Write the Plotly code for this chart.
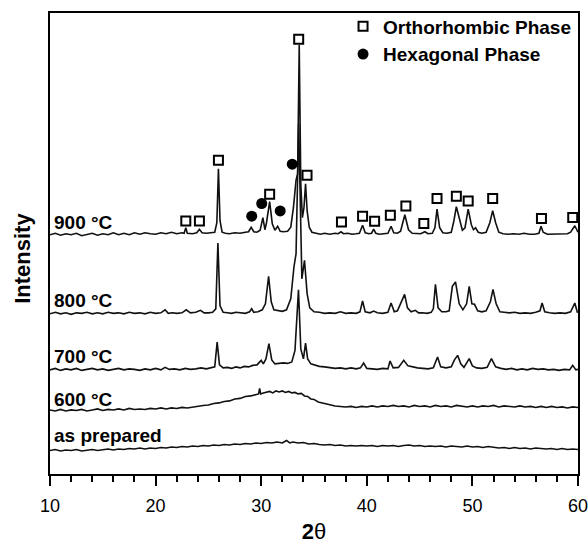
import plotly.graph_objects as go

# ---------------- data (2theta, intensity in a.u. incl. vertical offset) ----------------
tt_900 = [10.0, 10.5, 11.0, 11.5, 12.0, 12.5, 13.0, 13.5, 14.0, 14.5, 15.0, 15.5, 16.0, 16.5, 17.0, 17.5, 18.0, 18.5, 19.0, 19.5,
          20.0, 20.5, 21.0, 21.5, 22.0, 22.5, 22.7, 22.86, 23.0, 23.5, 23.9, 24.15, 24.4, 24.8, 25.2, 25.6, 25.8, 25.95, 26.1, 26.3,
          26.6, 27.0, 27.5, 28.0, 28.5, 28.8, 29.05, 29.3, 29.6, 29.9, 30.16, 30.35, 30.5, 30.8, 31.05, 31.3, 31.56, 31.8, 32.1, 32.5,
          32.8, 33.05, 33.3, 33.45, 33.6, 33.75, 33.9, 34.05, 34.2, 34.35, 34.55, 34.8, 35.2, 35.6, 36.0, 36.5, 37.0, 37.3, 37.55, 37.8,
          38.2, 38.6, 39.0, 39.3, 39.6, 39.85, 40.2, 40.45, 40.65, 40.85, 41.2, 41.6, 42.0, 42.3, 42.55, 42.9, 43.2, 43.6, 43.95, 44.3,
          44.7, 45.1, 45.5, 45.8, 46.2, 46.45, 46.65, 46.9, 47.2, 47.6, 48.0, 48.25, 48.48, 48.75, 49.05, 49.3, 49.6, 49.9, 50.1, 50.3,
          50.55, 50.9, 51.3, 51.65, 51.92, 52.2, 52.5, 52.9, 53.4, 53.9, 54.4, 54.9, 55.4, 55.9, 56.3, 56.5, 56.7, 57.1, 57.6, 58.1,
          58.6, 59.0, 59.3, 59.7, 60.0]
int_900 = [239, 240.5, 238.5, 240, 239, 240.5, 238, 239.5, 240.5, 238.5, 240, 239, 241, 239, 240.5, 239, 241, 239.5, 241, 240,
           239.5, 241, 240, 241.5, 240, 241, 240.5, 246, 240.5, 240, 241, 244.5, 241, 240.5, 241, 241.5, 251, 305, 253, 241.5,
           240.5, 240, 241, 240.5, 241.5, 242, 246.5, 242, 241.5, 243.5, 256, 244, 251, 272, 250, 243.5, 247.5, 242.5, 242, 242.5,
           246.5, 266, 293.5, 300, 428.5, 290, 256, 266, 290, 263, 246.5, 241.5, 240.5, 239.5, 240.5, 239.5, 240.5, 240, 242, 240,
           240.5, 239.5, 240, 240.5, 248.5, 241, 240, 240.5, 244.5, 240.5, 239.5, 240, 240.5, 247.5, 241, 240.5, 242.5, 259, 244, 240.5,
           240, 240, 242, 240, 240.5, 246, 264.5, 246, 241, 240.5, 241.5, 253, 267, 256, 243.5, 246, 264.5, 249, 244, 246,
           241.5, 240.5, 241.5, 251, 263, 251, 241.5, 240, 239.5, 240, 239.5, 240.5, 239.5, 239.5, 240.5, 247.5, 241.5, 239.5, 239.5, 240,
           239.5, 240, 241.5, 248, 241.5]

tt_800 = [10.0, 10.5, 11.0, 11.5, 12.0, 12.5, 13.0, 13.5, 14.0, 14.5, 15.0, 15.5, 16.0, 16.5, 17.0, 17.5, 18.0, 18.5, 19.0, 19.5,
          20.0, 20.5, 20.9, 21.2, 21.6, 22.0, 22.5, 22.9, 23.3, 23.8, 24.25, 24.6, 25.0, 25.4, 25.7, 25.9, 26.1, 26.4, 26.8, 27.2,
          27.6, 28.0, 28.5, 28.9, 29.1, 29.3, 29.7, 30.1, 30.4, 30.7, 30.95, 31.2, 31.6, 32.0, 32.4, 32.8, 33.1, 33.3, 33.55, 33.7,
          33.85, 34.1, 34.35, 34.6, 35.0, 35.5, 36.0, 36.5, 37.0, 37.5, 38.0, 38.5, 39.0, 39.35, 39.6, 39.85, 40.3, 40.65, 41.0, 41.5,
          42.0, 42.3, 42.6, 42.9, 43.25, 43.58, 43.85, 44.2, 44.6, 44.9, 45.3, 45.7, 46.1, 46.3, 46.5, 46.75, 47.1, 47.5, 47.8, 48.1,
          48.4, 48.75, 49.1, 49.45, 49.7, 49.95, 50.2, 50.5, 50.9, 51.3, 51.7, 51.95, 52.25, 52.6, 53.0, 53.5, 54.0, 54.5, 55.0, 55.5,
          56.0, 56.4, 56.6, 56.85, 57.3, 57.8, 58.3, 58.8, 59.3, 59.7, 59.95]
int_800 = [160, 161.5, 160, 161, 159.5, 161, 160.5, 161.5, 160, 161, 160, 161.5, 160.5, 161, 160, 161.5, 160.5, 161, 160, 161.5,
           160.5, 161, 164, 160.5, 161, 160.5, 161, 164, 161, 161.5, 163.5, 161, 161, 161.5, 165, 230.8, 168, 161.5, 161, 160.5,
           161.5, 161, 160.5, 162, 165, 161.5, 162, 164, 170, 197.5, 172, 164, 163, 162.5, 164, 175, 206.8, 220, 350, 260,
           195, 213.5, 180, 166, 162, 161.5, 160.5, 161, 160.5, 162, 160.5, 161, 160.5, 162, 172.8, 162, 161, 162.8, 161, 160.5,
           161.5, 170.8, 162, 163, 172.5, 179.5, 166, 162, 163.5, 161, 161, 160.5, 161.5, 165, 189.5, 166, 162, 162, 163, 187.5,
           191.8, 170, 164, 170, 187.5, 170, 169.5, 163, 162, 163, 172, 184.5, 170, 162, 161.5, 161, 161.5, 160.5, 161, 160.5,
           161.5, 163, 170.8, 162, 161, 160.5, 161, 160.5, 162, 170.8, 161]

tt_700 = [10.0, 10.5, 11.0, 11.5, 12.0, 12.5, 13.0, 13.5, 14.0, 14.5, 15.0, 15.5, 16.0, 16.5, 17.0, 17.5, 18.0, 18.5, 19.0, 19.5,
          20.0, 20.5, 20.9, 21.3, 21.8, 22.3, 22.8, 23.3, 23.8, 24.3, 24.8, 25.3, 25.6, 25.83, 26.05, 26.4, 26.8, 27.2, 27.6, 28.0,
          28.4, 28.8, 29.2, 29.6, 30.0, 30.2, 30.45, 30.73, 31.0, 31.3, 31.7, 32.1, 32.5, 32.9, 33.2, 33.53, 33.75, 34.0, 34.2, 34.4,
          34.7, 35.0, 35.5, 36.0, 36.5, 37.0, 37.5, 38.0, 38.5, 39.0, 39.4, 39.7, 40.0, 40.5, 41.0, 41.5, 42.0, 42.2, 42.5, 43.0,
          43.5, 43.9, 44.3, 44.8, 45.3, 45.8, 46.3, 46.7, 47.0, 47.5, 48.0, 48.3, 48.6, 48.9, 49.2, 49.7, 50.0, 50.4, 50.9, 51.4,
          51.8, 52.2, 52.7, 53.2, 53.7, 54.2, 54.7, 55.2, 55.7, 56.2, 56.7, 57.2, 57.7, 58.2, 58.7, 59.2, 59.5, 59.8, 60.0]
int_700 = [104, 105.5, 103.5, 105, 104, 105.5, 103.5, 104.5, 105.5, 104, 105, 103.5, 104.5, 105.5, 104, 105, 104.5, 103.5, 105, 104,
           105.5, 104, 106.5, 104.5, 105, 104, 105.5, 104.5, 105, 106, 105, 106, 107, 131.8, 109, 106, 106.5, 105.5, 107, 106,
           107.5, 107, 108.5, 109, 113.5, 110, 115, 130.2, 114, 110, 110.5, 111, 110.5, 112, 123.5, 184, 125, 115, 130.8, 115,
           110, 109, 107.5, 107, 106.5, 105.5, 106, 105, 106, 105, 106, 110.8, 105.5, 105, 104.5, 105.5, 105, 112.8, 106, 106.5,
           113.5, 108, 107, 106, 105.5, 105, 106, 116.8, 107, 106, 107, 114, 118.5, 110, 106.5, 115.2, 108, 106, 105.5, 106.5,
           115.2, 107, 105.5, 104.5, 105.5, 104, 105, 104, 105.5, 104.5, 105, 104, 104.5, 103.5, 104.5, 104, 108.5, 104, 104.5]

tt_600 = [10.0, 10.5, 11.0, 11.5, 12.0, 12.5, 13.0, 13.5, 14.0, 14.5, 15.0, 15.5, 16.0, 16.5, 17.0, 17.5, 18.0, 18.5, 19.0, 19.5,
          20.0, 20.5, 21.0, 21.5, 22.0, 22.5, 23.0, 23.5, 24.0, 24.5, 25.0, 25.5, 26.0, 26.5, 27.0, 27.5, 28.0, 28.5, 29.0, 29.5,
          29.75, 29.85, 29.95, 30.2, 30.5, 30.8, 31.1, 31.4, 31.7, 32.0, 32.3, 32.6, 32.9, 33.2, 33.5, 33.8, 34.1, 34.4, 34.7, 35.0,
          35.4, 35.8, 36.2, 36.6, 37.0, 37.5, 38.0, 38.5, 39.0, 39.5, 40.0, 40.5, 41.0, 41.5, 42.0, 42.5, 43.0, 43.5, 44.0, 44.5,
          45.0, 45.5, 46.0, 46.5, 47.0, 47.5, 48.0, 48.5, 49.0, 49.5, 50.0, 50.5, 51.0, 51.5, 52.0, 52.5, 53.0, 53.5, 54.0, 54.5,
          55.0, 55.5, 56.0, 56.5, 57.0, 57.5, 58.0, 58.5, 59.0, 59.5, 60.0]
int_600 = [64, 63, 64.5, 63, 64, 63.5, 64.5, 63, 64, 65, 63.5, 64.5, 64, 65, 64, 65.5, 64.5, 65, 64.5, 65.5,
           65, 66, 65, 66, 65.5, 66.5, 66, 67, 67.5, 68.5, 69, 70.5, 71, 72.5, 73, 75, 75.5, 77.5, 78, 79.5,
           80, 85.5, 80, 81, 81.5, 82.5, 81, 83, 82, 83, 81.5, 82.5, 81, 81.5, 80, 80.5, 78, 77.5, 75, 74.5,
           72, 71, 69.5, 69, 68, 67.5, 67, 67.5, 66.5, 67.5, 67, 68, 67, 68, 67.5, 68.5, 67.5, 68, 67, 68.5,
           67.5, 68, 67, 68.5, 67.5, 68, 67, 68.5, 68, 67, 68, 67, 68, 67.5, 68.5, 67, 68, 67.5, 67, 68,
           67, 67.5, 66.5, 67.5, 66.5, 67.5, 66.5, 67, 66, 67, 66.5]

tt_asprep = [10.0, 10.5, 11.0, 11.5, 12.0, 12.5, 13.0, 13.5, 14.0, 14.5, 15.0, 15.5, 16.0, 16.5, 17.0, 17.5, 18.0, 18.5, 19.0, 19.5,
             20.0, 20.5, 21.0, 21.5, 22.0, 22.5, 23.0, 23.5, 24.0, 24.5, 25.0, 25.5, 26.0, 26.5, 27.0, 27.5, 28.0, 28.5, 29.0, 29.5,
             30.0, 30.5, 31.0, 31.5, 32.0, 32.4, 32.7, 33.0, 33.5, 34.0, 34.5, 35.0, 35.5, 36.0, 36.5, 37.0, 37.5, 38.0, 38.5, 39.0,
             39.5, 40.0, 40.5, 41.0, 41.5, 42.0, 42.5, 43.0, 43.5, 44.0, 44.5, 45.0, 45.5, 46.0, 46.5, 47.0, 47.5, 48.0, 48.5, 49.0,
             49.5, 50.0, 50.5, 51.0, 51.5, 52.0, 52.5, 53.0, 53.5, 54.0, 54.5, 55.0, 55.5, 56.0, 56.5, 57.0, 57.5, 58.0, 58.5, 59.0,
             59.5, 60.0]
int_asprep = [23.5, 24.5, 23, 24, 23.5, 24.5, 23, 24, 24.5, 23.5, 24.5, 25, 24, 25, 24.5, 25.5, 25, 26, 25, 26,
              25.5, 26.5, 26, 27, 26.5, 27.5, 27, 28, 27.5, 28.5, 28, 29, 28.5, 29.5, 29, 30, 29.5, 30.5, 30, 31,
              30.5, 31.5, 31, 32, 31, 33.5, 31, 32, 31, 31.5, 30, 30.5, 29.5, 29, 29.5, 28.5, 29, 28, 28.5, 28,
              28.5, 28, 28.5, 27.5, 28.5, 28, 28.5, 27.5, 28.5, 29, 28, 28.5, 27.5, 28, 27.5, 28, 27, 28, 27.5, 27,
              28, 27, 27.5, 26.5, 27.5, 27, 26, 26.5, 25.5, 26.5, 25.5, 26, 25, 26, 25.5, 25, 25.5, 24.5, 25.5, 24.5,
              25, 24.5]

series_labels = ["900 °C", "800 °C", "700 °C", "600 °C", "as prepared"]
label_levels = [251, 173.5, 117, 74.5, 38.5]

# phase markers above the 900 °C pattern
ortho_tt = [22.86, 24.15, 25.95, 30.8, 33.55, 34.34, 37.6, 39.6, 40.74, 42.23, 43.7, 45.4, 46.65, 48.48, 49.6, 51.92, 56.54, 59.5]
ortho_int = [252.8, 252.8, 313.5, 279.5, 434.2, 298.5, 251.8, 257.5, 252.5, 258.5, 267.8, 250.2, 275.2, 277.5, 272.8, 275.2, 255.2, 256.2]
hexa_tt = [29.1, 30.05, 31.8, 32.94]
hexa_int = [257.5, 270.2, 262.8, 309.5]

x_ticks = [10, 20, 30, 40, 50, 60]

# ---------------- figure ----------------
FONT = "Liberation Sans, Arial, sans-serif"
fig = go.Figure()

for tt, inten in [(tt_asprep, int_asprep), (tt_600, int_600), (tt_700, int_700), (tt_800, int_800), (tt_900, int_900)]:
    fig.add_trace(go.Scatter(x=tt, y=inten, mode="lines", line=dict(color="#111111", width=1.6),
                             showlegend=False, hoverinfo="skip"))

fig.add_trace(go.Scatter(x=ortho_tt, y=ortho_int, mode="markers", name="Orthorhombic Phase",
                         marker=dict(symbol="square", size=9, color="white", line=dict(color="black", width=2))))
fig.add_trace(go.Scatter(x=hexa_tt, y=hexa_int, mode="markers", name="Hexagonal Phase",
                         marker=dict(symbol="circle", size=11, color="black", line=dict(width=0))))

for lab, lev in zip(series_labels, label_levels):
    fig.add_annotation(x=10.15, y=lev, text="<b>" + lab + "</b>", showarrow=False, xanchor="left", yanchor="middle",
                       font=dict(family=FONT, size=19, color="black"))

# y-axis title placed slightly below the axis centre, as in the original
fig.add_annotation(xref="paper", yref="paper", x=-0.052, y=0.468, text="<b>Intensity</b>", textangle=-90,
                   showarrow=False, xanchor="center", yanchor="middle",
                   font=dict(family=FONT, size=22, color="black"))

fig.update_layout(
    width=588, height=544,
    margin=dict(l=50, r=10, t=13, b=70, autoexpand=False),
    paper_bgcolor="white", plot_bgcolor="white",
    font=dict(family=FONT, color="black"),
    legend=dict(x=0.555, y=1.012, xanchor="left", yanchor="top", bgcolor="rgba(0,0,0,0)",
                font=dict(family=FONT, size=19, color="black", weight="bold"),
                tracegroupgap=0, itemsizing="trace"),
    xaxis=dict(range=[10, 60], tickvals=x_ticks, ticktext=[str(v) for v in x_ticks], automargin=False,
               ticks="outside", ticklen=10, tickwidth=2, tickcolor="black", ticklabelstandoff=4,
               ticklabeloverflow="allow",
               minor=dict(dtick=2, tick0=10, ticks="outside", ticklen=6, tickwidth=2, tickcolor="black"),
               showline=True, linewidth=2, linecolor="black", mirror=True, showgrid=False, zeroline=False,
               tickfont=dict(family=FONT, size=18, color="black"),
               title=dict(text="<b>2</b>θ", font=dict(family=FONT, size=22, color="black"), standoff=24)),
    yaxis=dict(range=[0, 460.5], showticklabels=False, ticks="", showline=True, linewidth=2, linecolor="black",
               mirror=True, showgrid=False, zeroline=False, automargin=False),
)

fig.write_html("out.html")
